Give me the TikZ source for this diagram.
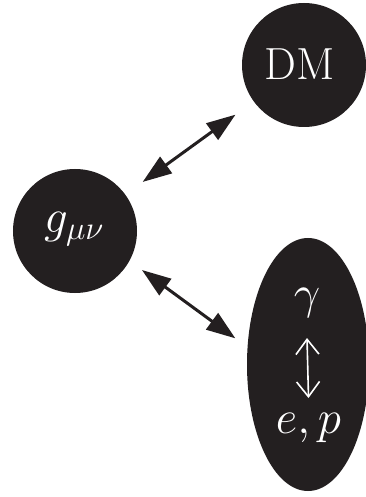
\documentclass[tikz,border=0pt]{standalone}
\usepackage{fix-cm}
\usetikzlibrary{shapes.geometric,arrows.meta}
\definecolor{ink}{HTML}{231F20}
\tikzset{
  blob/.style={fill=ink, draw=none, inner sep=0pt},
  lbl/.style={text=white, inner sep=0pt, font=\fontsize{47bp}{52bp}\selectfont},
  dbl/.style={draw=ink, line width=3bp, {Triangle[length=29bp,width=20bp]}-{Triangle[length=29bp,width=20bp]}},
  inner/.style={draw=white, line width=1.6bp, {Straight Barb[length=15bp,width=23bp]}-{Straight Barb[length=15bp,width=23bp]}}
}
\begin{document}
\begin{tikzpicture}[x=1bp,y=-1bp]
\useasboundingbox (0,0) rectangle (365,497);
% shapes
\node[blob, circle, minimum size=124bp] (g) at (75,231) {};
\node[blob, circle, minimum size=124bp] (dm) at (304,65) {};
\node[blob, ellipse, minimum width=122bp, minimum height=253bp] (ell) at (308,364.5) {};
% labels
\node[lbl, anchor=base] (gt) at (74,232) {$g_{\mu\nu}$};
\node[lbl, anchor=base, font=\fontsize{45bp}{50bp}\selectfont] (dmt) at (300,80) {DM};
\node[lbl, anchor=base] (gam) at (307,308) {$\gamma$};
\node[lbl, anchor=base] (ep) at (308.5,433) {$e,p$};
% connectors
\draw[dbl, shorten <=83.6bp, shorten >=84.6bp] (g.center) -- (dm.center);
\draw[dbl, shorten <=83bp, shorten >=90bp] ([yshift=10bp]g.center) -- ([yshift=-27bp]ell.center);
\draw[inner] ([yshift=-30bp]gam.base) -- ([yshift=35bp]ep.base);
\end{tikzpicture}
\end{document}
